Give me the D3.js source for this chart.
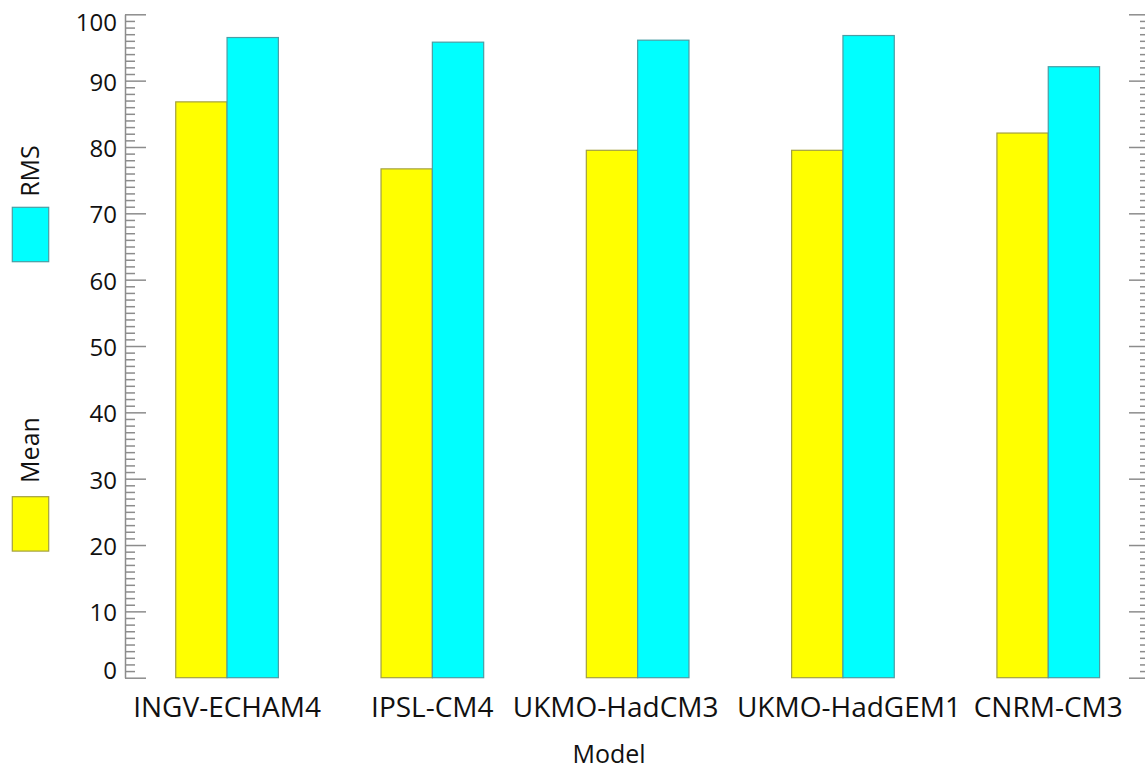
<!DOCTYPE html>
<html>
<head>
<meta charset="utf-8">
<script src="https://cdn.jsdelivr.net/npm/d3@7"></script>
<style>
  html, body { margin: 0; padding: 0; background: #fff; }
  svg { display: block; font-family: "Open Sans", "Noto Sans", sans-serif; }
</style>
</head>
<body>
<svg id="chart" width="1145" height="769"></svg>
<script>
// ---- data ----
const models = ["INGV-ECHAM4", "IPSL-CM4", "UKMO-HadCM3", "UKMO-HadGEM1", "CNRM-CM3"];
const seriesNames = ["Mean", "RMS"];
const meanValues = [86.8, 76.7, 79.5, 79.5, 82.1];
const rmsValues = [96.5, 95.8, 96.1, 96.8, 92.1];
const yTickValues = [0, 10, 20, 30, 40, 50, 60, 70, 80, 90, 100];
const xTitle = "Model";

const colors = { Mean: "#ffff00", RMS: "#00ffff" };
const strokes = { Mean: "#a3a040", RMS: "#4a9ea4" };
// horizontal nudges of the category labels (layout only)
const labelShift = [0, 0, -22, 6, 0];

const svg = d3.select("#chart");

const plotLeft = 125, plotRight = 1150, plotTop = 14.3, plotBottom = 677.7;

const y = d3.scaleLinear().domain([0, 100]).range([plotBottom, plotTop]);
const x0 = d3.scaleBand().domain(models).range([124.4, 1150.9])
  .paddingInner(0.5).paddingOuter(0.25);
const x1 = d3.scaleBand().domain(seriesNames).range([0, x0.bandwidth()]).padding(0);

const rows = models.map((m, i) => ({ model: m, Mean: meanValues[i], RMS: rmsValues[i] }));

// ---- bars ----
const groups = svg.append("g").selectAll("g").data(rows).join("g")
  .attr("transform", d => `translate(${x0(d.model)},0)`);
groups.selectAll("rect")
  .data(d => seriesNames.map(k => ({ key: k, value: d[k] })))
  .join("rect")
  .attr("x", d => x1(d.key))
  .attr("y", d => y(d.value))
  .attr("width", x1.bandwidth())
  .attr("height", d => y(0) - y(d.value))
  .attr("fill", d => colors[d.key])
  .attr("stroke", d => strokes[d.key])
  .attr("stroke-width", 1.2);

// ---- axes ----
const axisColor = "#8c8c8c";
const minorTicks = d3.range(0, 101, 1).filter(v => v % 10 !== 0);

function styleAxis(g) {
  g.selectAll("path.domain").attr("stroke", axisColor).attr("stroke-width", 1.5);
  g.selectAll(".tick line").attr("stroke", axisColor).attr("stroke-width", 1.5);
}

// left major
const leftAxis = svg.append("g").attr("transform", `translate(${plotLeft},0)`)
  .call(d3.axisRight(y).tickValues(yTickValues).tickSize(21).tickSizeOuter(0).tickFormat(""));
styleAxis(leftAxis);
// left minor
const leftMinor = svg.append("g").attr("transform", `translate(${plotLeft},0)`)
  .call(d3.axisRight(y).tickValues(minorTicks).tickSize(10).tickFormat(""));
leftMinor.select("path.domain").remove();
styleAxis(leftMinor);

// left labels
svg.append("g").selectAll("text").data(yTickValues).join("text")
  .attr("x", 117)
  .attr("y", d => y(d) + (d === 100 ? 16.5 : d === 0 ? 0.8 : 10))
  .attr("text-anchor", "end")
  .attr("font-size", 24)
  .attr("fill", "#111")
  .text(d => d);

// right major
const rightAxis = svg.append("g").attr("transform", `translate(${plotRight},0)`)
  .call(d3.axisLeft(y).tickValues(yTickValues).tickSize(21).tickSizeOuter(0).tickFormat(""));
styleAxis(rightAxis);
const rightMinor = svg.append("g").attr("transform", `translate(${plotRight},0)`)
  .call(d3.axisLeft(y).tickValues(minorTicks).tickSize(10).tickFormat(""));
rightMinor.select("path.domain").remove();
styleAxis(rightMinor);

// x category labels
svg.append("g").selectAll("text").data(models).join("text")
  .attr("x", (d, i) => x0(d) + x0.bandwidth() / 2 + labelShift[i])
  .attr("y", 717)
  .attr("text-anchor", "middle")
  .attr("font-size", 28)
  .attr("fill", "#111")
  .text(d => d);

// x title
svg.append("text")
  .attr("x", 609).attr("y", 763)
  .attr("text-anchor", "middle")
  .attr("font-size", 25)
  .attr("fill", "#111")
  .text(xTitle);

// ---- legend ----
const legendItems = [
  { key: "RMS", rectY: 207.3, textY: 171 },
  { key: "Mean", rectY: 496.7, textY: 450 }
];
const lg = svg.append("g");
lg.selectAll("rect").data(legendItems).join("rect")
  .attr("x", 12.3).attr("y", d => d.rectY)
  .attr("width", 36.4).attr("height", 54.4)
  .attr("fill", d => colors[d.key])
  .attr("stroke", d => strokes[d.key])
  .attr("stroke-width", 1.2);
lg.selectAll("text").data(legendItems).join("text")
  .attr("transform", d => `translate(39,${d.textY}) rotate(-90)`)
  .attr("text-anchor", "middle")
  .attr("font-size", 25)
  .attr("fill", "#111")
  .text(d => d.key);
</script>
</body>
</html>
